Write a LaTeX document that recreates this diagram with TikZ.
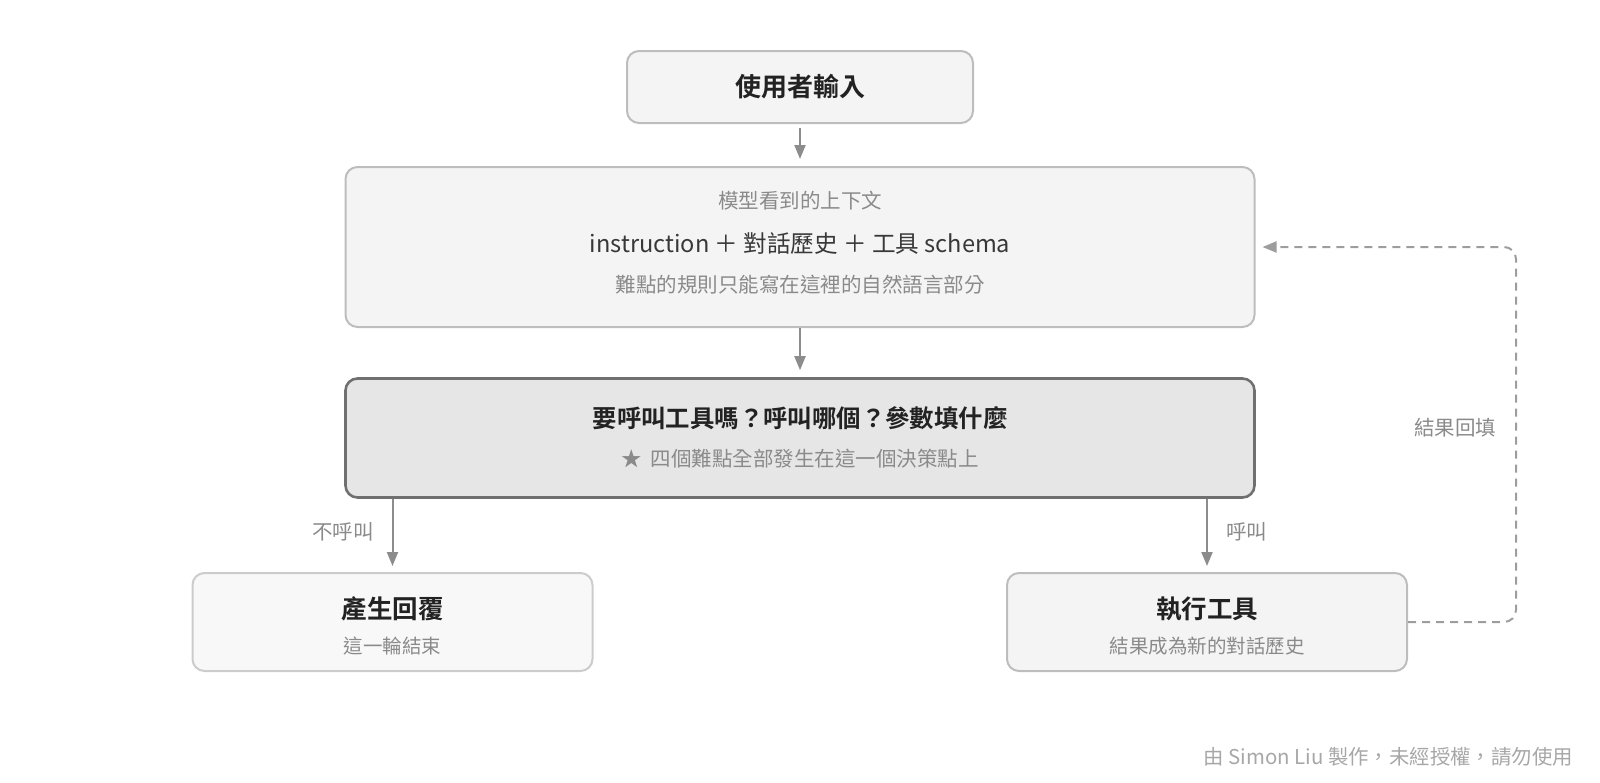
\documentclass[tikz,border=0pt]{standalone}
\usepackage{fontspec}
\setmainfont{Noto Sans CJK TC}[BoldFont={Noto Sans CJK TC Bold}]
\usetikzlibrary{arrows.meta,positioning}
\definecolor{boxline}{HTML}{BDBDBD}
\definecolor{boxfill}{HTML}{F4F4F4}
\definecolor{keyfill}{HTML}{E6E6E6}
\definecolor{keyline}{HTML}{707070}
\definecolor{endfill}{HTML}{F8F8F8}
\definecolor{endline}{HTML}{CCCCCC}
\definecolor{txtdark}{HTML}{222222}
\definecolor{txtgray}{HTML}{8A8A8A}
\definecolor{flowline}{HTML}{8C8C8C}
\tikzset{
  panel/.style={draw=boxline, fill=boxfill, line width=2pt, rounded corners=12pt, inner sep=0pt},
  keypanel/.style={panel, draw=keyline, fill=keyfill, line width=2.6pt},
  endpanel/.style={panel, draw=endline, fill=endfill},
  title/.style={font=\bfseries\fontsize{25.5}{30}\selectfont, text=txtdark, inner sep=0pt},
  body/.style={font=\fontsize{23.6}{28}\selectfont, text=txtdark!90, inner sep=0pt},
  note/.style={font=\fontsize{20.5}{24}\selectfont, text=txtgray, inner sep=0pt},
  flow/.style={draw=flowline, line width=2pt, -{Triangle[length=14pt,width=11pt]}},
  loopback/.style={draw=flowline!85, line width=2pt, dash pattern=on 8pt off 6pt, rounded corners=12pt, -{Triangle[length=14pt,width=11pt]}}
}
\begin{document}
\begin{tikzpicture}[x=1pt,y=-1pt]
  \useasboundingbox (0,0) rectangle (1600,782);
  % boxes
  \node[panel, minimum width=346pt, minimum height=72pt] (input) at (800,87) {};
  \node[panel, minimum width=909pt, minimum height=160pt] (context) at (800,247) {};
  \node[keypanel, minimum width=909pt, minimum height=119pt] (decide) at (800,438) {};
  \node[endpanel, minimum width=400pt, minimum height=98pt] (reply) at (392.5,622) {};
  \node[panel, minimum width=400pt, minimum height=98pt] (runtool) at (1207,622) {};
  % texts
  \node[title, font=\bfseries\fontsize{26}{30}\selectfont] (inputtxt) at (800,87) {使用者輸入};
  \node[note] (ctxhead) at (800,201) {模型看到的上下文};
  \node[body] (ctxmain) at (800,243) {instruction ＋ 對話歷史 ＋ 工具 schema};
  \node[note] (ctxnote) at (800,285) {難點的規則只能寫在這裡的自然語言部分};
  \node[title, font=\bfseries\fontsize{24.4}{29}\selectfont] (decidetxt) at (800,418) {要呼叫工具嗎？呼叫哪個？參數填什麼};
  \node[note] (decidenote) at (800,459) {★\ \ 四個難點全部發生在這一個決策點上};
  \node[title] (replytxt) at (392.5,609) {產生回覆};
  \node[note, font=\fontsize{19.5}{23}\selectfont] (replynote) at (392.5,646) {這一輪結束};
  \node[title] (runtooltxt) at (1207,609) {執行工具};
  \node[note, font=\fontsize{19.5}{23}\selectfont] (runtoolnote) at (1207,646) {結果成為新的對話歷史};
  % connectors
  \draw[flow, shorten <=4pt, shorten >=7pt] (input.south) -- (context.north);
  \draw[flow, shorten >=7pt] (context.south) -- (decide.north);
  \draw[flow, shorten >=6pt] (reply.north |- decide.south) -- (reply.north)
    node[note, pos=0.45, left=18pt] (nocall) {不呼叫};
  \draw[flow, shorten >=6pt] (runtool.north |- decide.south) -- (runtool.north)
    node[note, pos=0.45, right=18pt] (call) {呼叫};
  \coordinate (loopdown) at (1516,622);
  \coordinate (loopup) at (1516,247);
  \draw[loopback, shorten >=7pt] (runtool.east) -- (loopdown) -- (loopup) -- (context.east |- loopup);
  \node[note] (looptxt) at (1455,428) {結果回填};
  % footer
  \node[note, font=\fontsize{20.4}{24}\selectfont, text=txtgray!75, anchor=east] (credit) at (1573,757) {由 Simon Liu 製作，未經授權，請勿使用};
\end{tikzpicture}
\end{document}
